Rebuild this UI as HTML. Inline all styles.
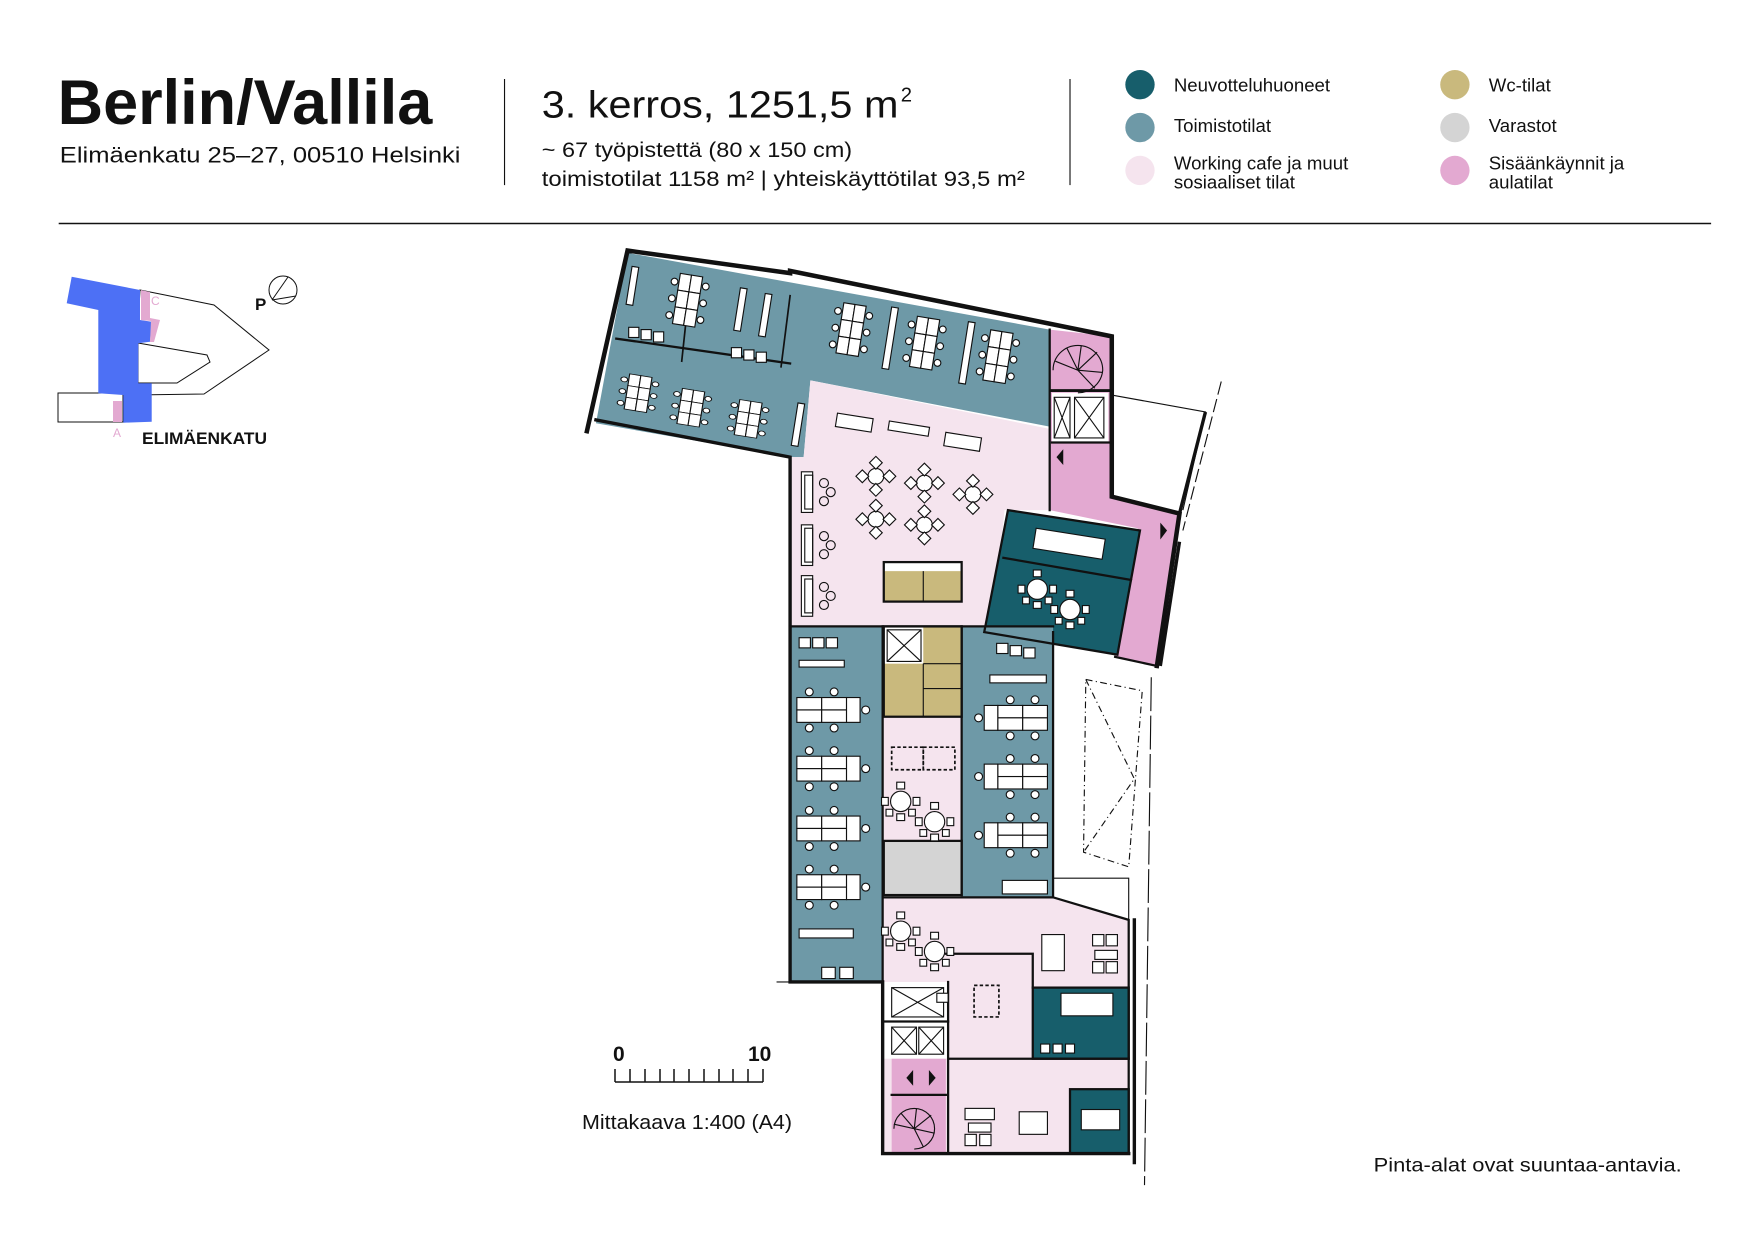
<!DOCTYPE html>
<html><head><meta charset="utf-8"><style>
html,body{margin:0;padding:0;background:#fff}
svg{display:block}
text{font-family:"Liberation Sans",sans-serif;fill:#111}
</style></head><body>
<svg width="1754" height="1240" viewBox="0 0 1754 1240" xmlns="http://www.w3.org/2000/svg">
<defs>
<g id="dv">
 <rect x="0" y="0" width="10" height="15" fill="#fff" stroke="#111" stroke-width="1"/>
 <rect x="10" y="0" width="10" height="15" fill="#fff" stroke="#111" stroke-width="1"/>
 <rect x="0" y="15" width="10" height="15" fill="#fff" stroke="#111" stroke-width="1"/>
 <rect x="10" y="15" width="10" height="15" fill="#fff" stroke="#111" stroke-width="1"/>
 <rect x="0" y="30" width="10" height="15" fill="#fff" stroke="#111" stroke-width="1"/>
 <rect x="10" y="30" width="10" height="15" fill="#fff" stroke="#111" stroke-width="1"/>
 <circle cx="-4" cy="8" r="3" fill="#fff" stroke="#111"/><circle cx="-4" cy="23" r="3" fill="#fff" stroke="#111"/><circle cx="-4" cy="38" r="3" fill="#fff" stroke="#111"/>
 <circle cx="24" cy="8" r="3" fill="#fff" stroke="#111"/><circle cx="24" cy="23" r="3" fill="#fff" stroke="#111"/><circle cx="24" cy="38" r="3" fill="#fff" stroke="#111"/>
</g>
<g id="dh">
 <rect x="0" y="0" width="22" height="11" fill="#fff" stroke="#111"/>
 <rect x="22" y="0" width="22" height="11" fill="#fff" stroke="#111"/>
 <rect x="0" y="11" width="22" height="11" fill="#fff" stroke="#111"/>
 <rect x="22" y="11" width="22" height="11" fill="#fff" stroke="#111"/>
 <rect x="44" y="0" width="12" height="22" fill="#fff" stroke="#111"/>
 <circle cx="11" cy="-5" r="3.5" fill="#fff" stroke="#111"/><circle cx="33" cy="-5" r="3.5" fill="#fff" stroke="#111"/>
 <circle cx="11" cy="27" r="3.5" fill="#fff" stroke="#111"/><circle cx="33" cy="27" r="3.5" fill="#fff" stroke="#111"/>
 <circle cx="61" cy="11" r="3.5" fill="#fff" stroke="#111"/>
</g>
<g id="rt">
 <circle cx="0" cy="0" r="9" fill="#fff" stroke="#111"/>
 <rect x="-3.5" y="-17" width="7" height="6" fill="#fff" stroke="#111"/>
 <rect x="-3.5" y="11" width="7" height="6" fill="#fff" stroke="#111"/>
 <rect x="-17" y="-3.5" width="6" height="7" fill="#fff" stroke="#111"/>
 <rect x="11" y="-3.5" width="6" height="7" fill="#fff" stroke="#111"/>
 <rect x="7" y="7" width="6" height="6" fill="#fff" stroke="#111"/>
 <rect x="-13" y="7" width="6" height="6" fill="#fff" stroke="#111"/>
</g>
<g id="ct">
 <circle cx="0" cy="0" r="7" fill="#fff" stroke="#111"/>
 <rect x="-4" y="-16" width="8" height="8" fill="#fff" stroke="#111" transform="rotate(45 0 -12)"/>
 <rect x="-4" y="8" width="8" height="8" fill="#fff" stroke="#111" transform="rotate(45 0 12)"/>
 <rect x="-16" y="-4" width="8" height="8" fill="#fff" stroke="#111" transform="rotate(45 -12 0)"/>
 <rect x="8" y="-4" width="8" height="8" fill="#fff" stroke="#111" transform="rotate(45 12 0)"/>
</g>
<g id="sofa"><rect x="0" y="0" width="10" height="36" fill="#fff" stroke="#111"/><rect x="3" y="3" width="7" height="30" fill="none" stroke="#111"/><circle cx="20" cy="10" r="4" fill="none" stroke="#111"/><circle cx="26" cy="18" r="4" fill="none" stroke="#111"/><circle cx="20" cy="26" r="4" fill="none" stroke="#111"/></g>
</defs>

<g>
 <polygon points="140,290 165,295 214,305 269,350 204,394 134,395" fill="#fff" stroke="#111" stroke-width="1"/>
 <polygon points="138,343 207,355 210,362 177,383 138,383" fill="#fff" stroke="#111" stroke-width="1"/>
 <rect x="58" y="393" width="65" height="29" fill="#fff" stroke="#111" stroke-width="1"/>
 <polygon points="71.7,276.7 140,290 140,320 151.7,321.7 150,341.7 138.3,343.3 138.3,383.3 151.7,383.3 151.7,421.7 123.3,422.7 123.3,395 98.3,393.3 98.3,310 66.7,303.3" fill="#4d70f5"/>
 <polygon points="141,290 150,292 150,318 160,320 154,342 150,342 151,321 141,320" fill="#e3a9d1"/>
 <rect x="113" y="401" width="9" height="21" fill="#e3a9d1"/>
 <text x="151" y="305" font-size="12" style="fill:#e3a9d1">C</text>
 <text x="113" y="437" font-size="12" style="fill:#e3a9d1">A</text>
 <text x="142" y="444" font-size="17" font-weight="bold" textLength="125" lengthAdjust="spacingAndGlyphs">ELIMÄENKATU</text>
 <text x="255" y="310" font-size="17" font-weight="bold">P</text>
 <circle cx="283" cy="290" r="14" fill="none" stroke="#111" stroke-width="1"/>
 <line x1="272" y1="300" x2="288" y2="277" stroke="#111"/><line x1="272" y1="300" x2="296" y2="296" stroke="#111"/>
 <text x="613" y="1061" font-size="21" font-weight="bold">0</text>
 <text x="748" y="1061" font-size="21" font-weight="bold">10</text>
 <path d="M615,1082 H763 M615,1069 V1082 M630,1069 V1082 M645,1069 V1082 M660,1069 V1082 M674,1069 V1082 M689,1069 V1082 M704,1069 V1082 M719,1069 V1082 M733,1069 V1082 M748,1069 V1082 M763,1069 V1082" stroke="#111" stroke-width="1.5" fill="none"/>
 <text x="582" y="1129" font-size="20" textLength="210" lengthAdjust="spacingAndGlyphs">Mittakaava 1:400 (A4)</text>
</g>

<g transform="scale(1.12870)">
 <text x="51" y="110" font-size="56" font-weight="bold" textLength="332" lengthAdjust="spacingAndGlyphs">Berlin/Vallila</text>
 <text x="53" y="144" font-size="20" textLength="355" lengthAdjust="spacingAndGlyphs">Elimäenkatu 25–27, 00510 Helsinki</text>
 <line x1="447" y1="70" x2="447" y2="164" stroke="#111" stroke-width="1"/>
 <text x="480" y="104" font-size="34" textLength="316" lengthAdjust="spacingAndGlyphs">3. kerros, 1251,5 m</text>
 <text x="798" y="90" font-size="18">2</text>
 <text x="480" y="139" font-size="19" textLength="275" lengthAdjust="spacingAndGlyphs">~ 67 työpistettä (80 x 150 cm)</text>
 <text x="480" y="165" font-size="19" textLength="428" lengthAdjust="spacingAndGlyphs">toimistotilat 1158 m² | yhteiskäyttötilat 93,5 m²</text>
 <line x1="948" y1="70" x2="948" y2="164" stroke="#111" stroke-width="1"/>
 <circle cx="1010" cy="75" r="13" fill="#175e6b"/>
 <circle cx="1010" cy="113" r="13" fill="#6e99a7"/>
 <circle cx="1010" cy="151" r="13" fill="#f5e4ee"/>
 <circle cx="1289" cy="75" r="13" fill="#c9b97d"/>
 <circle cx="1289" cy="113" r="13" fill="#d4d4d4"/>
 <circle cx="1289" cy="151" r="13" fill="#e3a9d1"/>
 <g font-size="16.5">
  <text x="1040" y="81">Neuvotteluhuoneet</text>
  <text x="1040" y="117">Toimistotilat</text>
  <text x="1040" y="150">Working cafe ja muut</text>
  <text x="1040" y="167">sosiaaliset tilat</text>
  <text x="1319" y="81">Wc-tilat</text>
  <text x="1319" y="117">Varastot</text>
  <text x="1319" y="150">Sisäänkäynnit ja</text>
  <text x="1319" y="167">aulatilat</text>
 </g>
 <line x1="52" y1="198" x2="1516" y2="198" stroke="#111" stroke-width="1.3"/>
 <text x="1217" y="1038" font-size="17.5" textLength="273" lengthAdjust="spacingAndGlyphs">Pinta-alat ovat suuntaa-antavia.</text>

 <polygon points="556,224 930,292 930,378 718,337 712,405 700,405 528,375" fill="#6e99a7"/>
 <polygon points="718,337 930,380 930,452 890,452 880,555 700,555 700,405 712,405" fill="#f5e4ee"/>
 <polygon points="930,292 985,298 985,440 1045,455 1028,590 988,582 1008,468 930,452" fill="#e3a9d1"/>
 <rect x="932" y="348" width="50" height="44" fill="#fff"/>
 <polygon points="893,452 1010,470 990,580 872,560" fill="#175e6b"/>
 <line x1="888" y1="494" x2="1003" y2="514" stroke="#111" stroke-width="2"/>
 <rect x="700" y="555" width="82" height="315" fill="#6e99a7"/>
 <rect x="852" y="555" width="81" height="240" fill="#6e99a7"/>
 <rect x="783" y="555" width="69" height="80" fill="#c9b97d"/>
 <rect x="783" y="555" width="35" height="33" fill="#fff"/>
 <rect x="783" y="635" width="69" height="110" fill="#f5e4ee"/>
 <rect x="783" y="745" width="69" height="48" fill="#d4d4d4"/>
 <polygon points="782,795 933,795 1000,815 1000,1022 782,1022" fill="#f5e4ee"/>
 <rect x="915" y="875" width="85" height="63" fill="#175e6b"/>
 <rect x="948" y="965" width="52" height="57" fill="#175e6b"/>
 <rect x="783" y="870" width="56" height="68" fill="#fff"/>
 <rect x="790" y="938" width="48" height="84" fill="#e3a9d1"/>
 <rect x="783" y="498" width="69" height="35" fill="#c9b97d"/>
 <rect x="783" y="498" width="69" height="8" fill="#fff"/>

 <g stroke="#111" fill="none" stroke-linecap="square">
  <polyline points="520,382 556,222 700,242 700,240 985,298 985,440 1045,455 1025,590" stroke-width="4"/>
  <polyline points="528,372 700,405 700,870 782,870 782,1022 1000,1022" stroke-width="3"/>
  <line x1="930" y1="292" x2="930" y2="452" stroke-width="2"/>
  <line x1="932" y1="346" x2="984" y2="346" stroke-width="2.5"/>
  <line x1="932" y1="392" x2="984" y2="392" stroke-width="2"/>
  <polygon points="893,452 1010,470 990,580 872,560" stroke-width="2"/>
  <polyline points="988,582 1025,590" stroke-width="2"/>
  <line x1="700" y1="555" x2="933" y2="555" stroke-width="2"/>
  <line x1="782" y1="555" x2="782" y2="870" stroke-width="2"/>
  <line x1="852" y1="555" x2="852" y2="793" stroke-width="2"/>
  <line x1="933" y1="560" x2="933" y2="795" stroke-width="2"/>
  <rect x="783" y="555" width="69" height="80" stroke-width="2"/>
  <rect x="783" y="745" width="69" height="48" stroke-width="2"/>
  <rect x="783" y="498" width="69" height="35" stroke-width="2"/>
  <polyline points="782,795 933,795 1000,815 1000,1022" stroke-width="2"/>
  <rect x="915" y="875" width="85" height="63" stroke-width="2"/>
  <rect x="948" y="965" width="52" height="57" stroke-width="2"/>
  <line x1="840" y1="938" x2="1000" y2="938" stroke-width="2"/>
  <line x1="840" y1="870" x2="840" y2="1022" stroke-width="2"/>
  <polyline points="838,845 915,845 915,875" stroke-width="2"/>
  <line x1="783" y1="905" x2="840" y2="905" stroke-width="2"/>
  <line x1="790" y1="970" x2="838" y2="970" stroke-width="2"/>
  <line x1="1005" y1="815" x2="1005" y2="1030" stroke-width="3"/>
  <polyline points="546,300 700,322" stroke-width="2"/>
  <polyline points="612,245 604,320" stroke-width="1.5"/>
  <polyline points="700,262 692,325" stroke-width="1.5"/>
 </g>
 <g stroke="#111" stroke-width="1" fill="none">
  <rect x="786" y="558" width="30" height="28"/><path d="M786,558 L816,586 M816,558 L786,586"/>
  <rect x="952" y="352" width="26" height="36"/><path d="M952,352 L978,388 M978,352 L952,388"/>
  <rect x="934" y="352" width="14" height="36"/><path d="M934,352 L948,388 M948,352 L934,388"/>
  <rect x="790" y="875" width="46" height="26"/><path d="M790,875 L836,901 M836,875 L790,901"/>
  <rect x="790" y="910" width="22" height="24"/><path d="M790,910 L812,934 M812,910 L790,934"/>
  <rect x="814" y="910" width="22" height="24"/><path d="M814,910 L836,934 M836,910 L814,934"/>
  <line x1="818" y1="588" x2="852" y2="588"/><line x1="818" y1="610" x2="852" y2="610"/><line x1="818" y1="588" x2="818" y2="635"/>
  <line x1="818" y1="506" x2="818" y2="533"/>
 </g>
 <g stroke="#111" fill="none" stroke-width="1">
  <path d="M955,328 m-22,0 a22,22 0 0 1 22,-22 a22,22 0 0 1 22,22 a22,22 0 0 1 -22,20"/>
  <path d="M955,328 L935,320 M955,328 L945,308 M955,328 L958,306 M955,328 L972,312 M955,328 L977,330 M955,328 L970,344"/>
  <path d="M810,1000 m-18,0 a18,18 0 0 1 18,-18 a18,18 0 0 1 18,18 a18,18 0 0 1 -18,18"/>
  <path d="M810,1000 L792,996 M810,1000 L798,986 M810,1000 L812,982 M810,1000 L825,988 M810,1000 L828,1004 M810,1000 L818,1016"/>
 </g>
 <polygon points="936,405 942,398 942,412" fill="#111"/>
 <polygon points="1034,470 1028,463 1028,478" fill="#111"/>
 <polygon points="803,955 809,948 809,962" fill="#111"/>
 <polygon points="829,955 823,948 823,962" fill="#111"/>

 <g stroke="#111" fill="none">
  <polyline points="985,350 1068,365 1048,452" stroke-width="1"/>
  <line x1="1068" y1="365" x2="1045" y2="455" stroke-width="3"/>
  <line x1="1082" y1="338" x2="1048" y2="470" stroke-width="1" stroke-dasharray="12,4"/>
  <line x1="1045" y1="480" x2="1028" y2="590" stroke-width="3"/>
  <polygon points="962,602 1012,612 1000,768 960,755" stroke-width="1" stroke-dasharray="6,3,1,3"/>
  <polyline points="962,602 1005,690 960,755" stroke-width="1" stroke-dasharray="6,3,1,3"/>
  <line x1="1020" y1="600" x2="1014" y2="1050" stroke-width="1" stroke-dasharray="30,4"/>
  <polyline points="933,778 1000,778 1000,815" stroke-width="1"/>
  <line x1="688" y1="870" x2="700" y2="870" stroke-width="1"/>
 </g>

 <g transform="rotate(9 600 260)"><use href="#dv" x="600" y="242"/></g>
 <g transform="rotate(9 745 285)"><use href="#dv" x="745" y="268"/></g>
 <g transform="rotate(9 810 298)"><use href="#dv" x="810" y="280"/></g>
 <g transform="rotate(9 875 310)"><use href="#dv" x="875" y="292"/></g>
 <g transform="rotate(9 560 350)"><use href="#dv" x="555" y="332" transform="scale(1 0.7) translate(0 142)"/></g>
 <g transform="rotate(9 610 355)"><use href="#dv" x="603" y="345" transform="scale(1 0.7) translate(0 148)"/></g>
 <g transform="rotate(9 660 370)"><use href="#dv" x="653" y="355" transform="scale(1 0.7) translate(0 152)"/></g>
 <g fill="#fff" stroke="#111">
  <rect x="656" y="255" width="6" height="38" transform="rotate(9 656 255)"/>
  <rect x="678" y="260" width="6" height="38" transform="rotate(9 678 260)"/>
  <rect x="790" y="272" width="6" height="55" transform="rotate(9 790 272)"/>
  <rect x="858" y="285" width="6" height="55" transform="rotate(9 858 285)"/>
  <rect x="560" y="236" width="6" height="34" transform="rotate(9 560 236)"/>
  <rect x="707" y="357" width="6" height="38" transform="rotate(9 707 357)"/>
  <rect x="557" y="290" width="9" height="9"/><rect x="568" y="292" width="9" height="9"/><rect x="579" y="294" width="9" height="9"/>
  <rect x="648" y="308" width="9" height="9"/><rect x="659" y="310" width="9" height="9"/><rect x="670" y="312" width="9" height="9"/>
  <rect x="742" y="366" width="32" height="12" transform="rotate(9 742 366)"/>
  <rect x="788" y="373" width="36" height="8" transform="rotate(9 788 373)"/>
  <rect x="838" y="383" width="32" height="12" transform="rotate(9 838 383)"/>
  <rect x="918" y="468" width="62" height="18" transform="rotate(9 918 468)"/>
  <rect x="708" y="585" width="40" height="6"/>
  <rect x="708" y="823" width="48" height="8"/>
  <rect x="877" y="598" width="50" height="7"/>
  <rect x="708" y="565" width="10" height="9"/><rect x="720" y="565" width="10" height="9"/><rect x="732" y="565" width="10" height="9"/>
  <rect x="883" y="570" width="10" height="9"/><rect x="895" y="572" width="10" height="9"/><rect x="907" y="574" width="10" height="9"/>
  <rect x="728" y="857" width="12" height="10"/><rect x="744" y="857" width="12" height="10"/>
  <rect x="888" y="780" width="40" height="12"/>
  <rect x="923" y="828" width="20" height="32"/>
  <rect x="968" y="828" width="10" height="10"/><rect x="980" y="828" width="10" height="10"/><rect x="970" y="842" width="20" height="8"/><rect x="968" y="852" width="10" height="10"/><rect x="980" y="852" width="10" height="10"/>
  <rect x="940" y="880" width="46" height="20"/>
  <rect x="958" y="983" width="34" height="18"/>
  <rect x="922" y="925" width="8" height="8"/><rect x="933" y="925" width="8" height="8"/><rect x="944" y="925" width="8" height="8"/>
  <rect x="855" y="982" width="26" height="10"/><rect x="858" y="995" width="20" height="8"/><rect x="855" y="1005" width="10" height="10"/><rect x="868" y="1005" width="10" height="10"/>
  <rect x="903" y="985" width="25" height="20"/>
 </g>
 <g stroke="#111" stroke-width="1.5" fill="none" stroke-dasharray="3,2">
  <rect x="863" y="873" width="22" height="28"/>
  <rect x="790" y="662" width="28" height="20"/><rect x="818" y="662" width="28" height="20"/>
 </g>
 <use href="#sofa" x="710" y="418"/><use href="#sofa" x="710" y="465"/><use href="#sofa" x="710" y="510"/>
 <use href="#ct" x="776" y="422"/><use href="#ct" x="819" y="428"/><use href="#ct" x="862" y="438"/>
 <use href="#ct" x="776" y="460"/><use href="#ct" x="819" y="465"/>
 <use href="#rt" x="919" y="522"/><use href="#rt" x="948" y="540"/>
 <use href="#rt" x="798" y="710"/><use href="#rt" x="828" y="728"/>
 <use href="#rt" x="798" y="825"/><use href="#rt" x="828" y="843"/>
 <use href="#dh" x="706" y="618"/><use href="#dh" x="706" y="670"/><use href="#dh" x="706" y="723"/><use href="#dh" x="706" y="775"/>
 <g transform="translate(1803 0) scale(-1 1)">
  <use href="#dh" x="875" y="625"/><use href="#dh" x="875" y="677"/><use href="#dh" x="875" y="729"/>
 </g>
 <g fill="#fff" stroke="#111"><rect x="830" y="880" width="10" height="8"/></g>
</g>
</svg>
</body></html>
